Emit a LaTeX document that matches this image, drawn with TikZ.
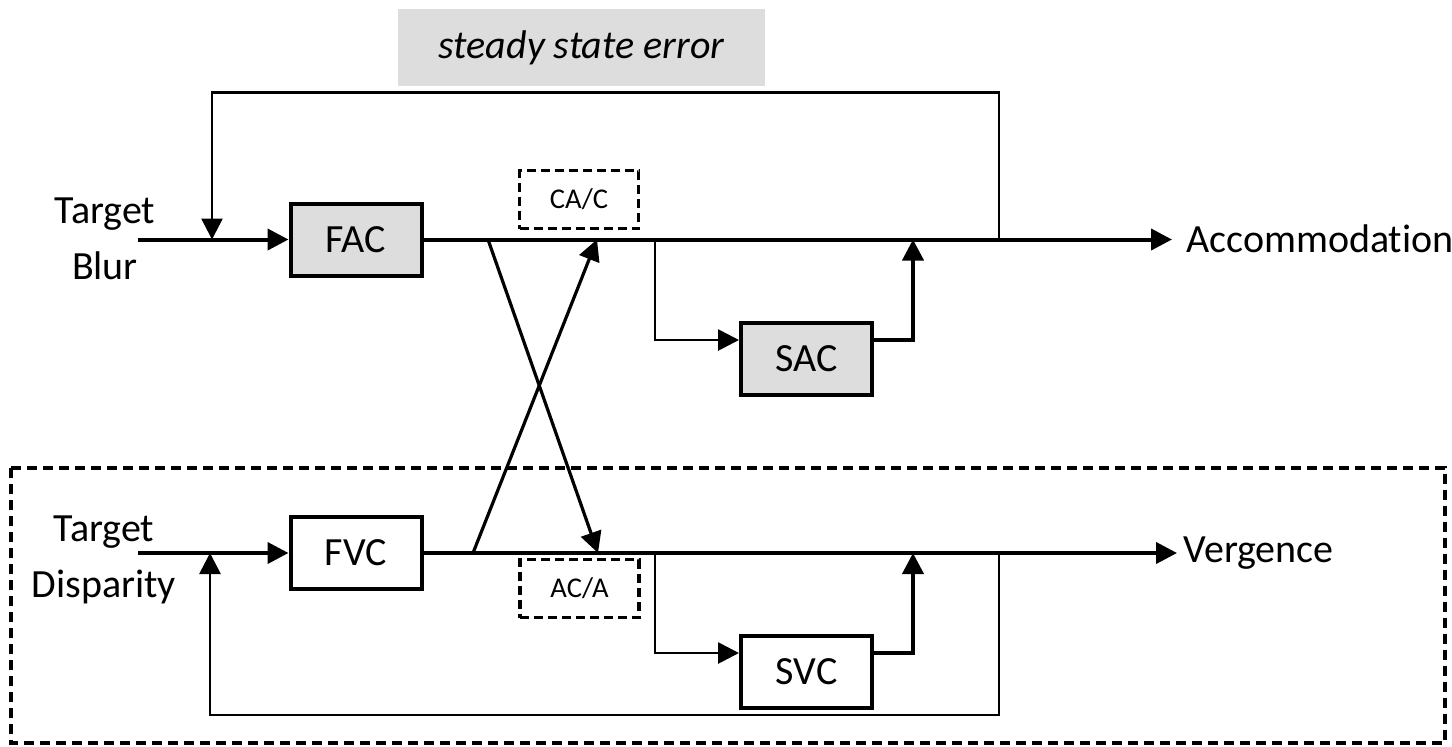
\documentclass[tikz,border=0pt]{standalone}
\usepackage{fontspec}
\setmainfont{Carlito}[Ligatures=NoCommon]
\usepackage{xcolor}
\usepackage{tikz}
\usetikzlibrary{positioning,calc,arrows.meta}

\definecolor{blockgray}{HTML}{DDDDDD}

\begin{document}
\begin{tikzpicture}[x=0.5pt,y=-0.5pt,
        >={Triangle[length=10.5pt,width=10.5pt]},
        sig/.style={line width=2pt},
        fb/.style={line width=1.4pt},
        link/.style={line width=1.6pt},
        blk/.style={draw,line width=2pt,minimum width=65.5pt,minimum height=36pt,inner sep=0pt,font=\fontsize{20}{24}\selectfont},
        gain/.style={draw,dash pattern=on 4.5pt off 2.5pt,line width=1.6pt,minimum width=59.5pt,minimum height=29pt,inner sep=0pt,font=\fontsize{14.3}{17}\selectfont},
        lbl/.style={align=center,inner sep=0pt,font=\fontsize{20}{28}\selectfont}]
        \useasboundingbox (0,0) rectangle (1452,746);

        % steady state error label
        \node[fill=blockgray,minimum width=183.5pt,minimum height=38.5pt,inner sep=0pt,font=\fontsize{20}{24}\selectfont\itshape] (sse) at (581.5,47.5) {steady state error};

        % vergence frame
        \draw[dash pattern=on 5pt off 3pt,line width=1.6pt] (11,468) rectangle (1445,743);

        % Accommodation channel
        \node[lbl] (blur) at (105,239) {Target\\Blur};
        \node[blk,fill=blockgray] (fac) at (356,239.5) {FAC};
        \node[gain] (cac) at (579,199.5) {CA/C};
        \node[blk,fill=blockgray] (sac) at (806.5,359) {SAC};
        \node[lbl,anchor=west,inner xsep=7pt] (acc) at (1172,239) {Accommodation};
        \coordinate (blurin) at (138,239.5);
        \coordinate (fbA) at (212,239.5);
        \coordinate (xA) at (488,239.5);
        \coordinate (tA) at (597,239.5);
        \coordinate (brA) at (655,239.5);
        \coordinate (sumA) at (913,239.5);
        \coordinate (outA) at (999,239.5);

        \draw[sig,->] (blurin) -- (fac);
        \draw[sig,->] (fac) -- (fac -| acc.west);
        \draw[fb,->] (outA) |- ($(fbA)+(0,-147)$) -- (fbA);
        \draw[fb,->] (brA) |- ([yshift=9.5pt]sac.west);
        \draw[sig,->] ([yshift=9.5pt]sac.east) -| (sumA);

        % Vergence channel
        \node[lbl] (disp) at (104,560) {Target\\Disparity};
        \node[blk] (fvc) at (356,553) {FVC};
        \node[gain] (aca) at (579.5,588.5) {AC/A};
        \node[blk] (svc) at (806.5,672) {SVC};
        \node[lbl,anchor=west,inner xsep=3pt] (vrg) at (1177,553) {Vergence};
        \coordinate (dispin) at (138,553);
        \coordinate (fbV) at (210,553);
        \coordinate (xV) at (473,553);
        \coordinate (tV) at (598,553);
        \coordinate (brV) at (655,553);
        \coordinate (sumV) at (913,553);
        \coordinate (outV) at (999,553);

        \draw[sig,->] (dispin) -- (fvc);
        \draw[sig,->] (fvc) -- (fvc -| vrg.west);
        \draw[fb,->] (outV) |- ($(fbV)+(0,162)$) -- (fbV);
        \draw[fb,->] (brV) |- ([yshift=9.5pt]svc.west);
        \draw[sig,->] ([yshift=9.5pt]svc.east) -| (sumV);

        % cross links
        \draw[link,->] (xA) -- (tV);
        \draw[link,->] (xV) -- (tA);
\end{tikzpicture}
\end{document}
